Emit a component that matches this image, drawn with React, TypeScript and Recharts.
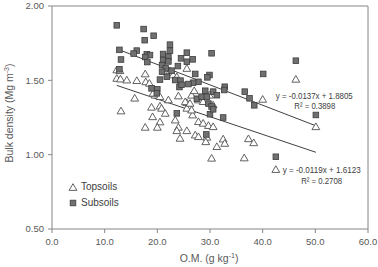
import { ScatterChart, Scatter, XAxis, YAxis, ReferenceLine, ReferenceDot, Label } from 'recharts';

// O.M. (g/kg) and bulk density (Mg/m3)
const topsoilOM = [12.3, 12.9, 12.3, 13.0, 17.7, 16.1, 17.8, 18.5, 22.4, 25.6, 23.0, 23.7, 19.6, 20.5, 15.7, 22.1,
  24.0, 13.1, 18.9, 20.5, 20.8, 25.6, 26.5, 27.0, 27.8, 28.7, 25.6, 26.7, 19.1, 21.5, 20.5, 23.4, 27.8, 28.7, 29.7,
  30.6, 17.7, 20.0, 24.0, 23.7, 25.6, 27.2, 27.8, 24.3, 29.4, 29.2, 31.3, 30.3, 32.5, 32.8, 37.3, 38.3, 36.5, 42.5,
  46.3, 40.0, 50.1, 29.9, 30.6, 25.3, 26.2, 26.5, 19.2, 14.2];
const topsoilBD = [1.57, 1.565, 1.513, 1.509, 1.543, 1.498, 1.49, 1.48, 1.563, 1.58, 1.536, 1.524, 1.4, 1.39, 1.38, 1.368,
  1.395, 1.294, 1.319, 1.327, 1.312, 1.35, 1.4, 1.43, 1.368, 1.357, 1.312, 1.267, 1.255, 1.278, 1.22, 1.233, 1.222, 1.211, 1.196,
  1.188, 1.184, 1.184, 1.184, 1.161, 1.161, 1.132, 1.121, 1.11, 1.117, 1.087, 1.054, 0.976, 1.105, 1.076, 1.107, 1.08, 0.978, 0.9,
  1.507, 1.372, 1.188, 1.4, 1.334, 1.356, 1.345, 1.3, 1.413, 1.502];

const subsoilOM = [12.3, 17.4, 19.3, 17.6, 22.4, 22.4, 12.8, 16.1, 15.5, 18.0, 18.6, 17.7, 21.1, 22.1, 21.1, 22.1, 25.6,
  30.3, 24.5, 25.6, 26.7, 13.1, 18.1, 20.9, 21.6, 23.9, 12.8, 20.9, 22.7, 27.2, 29.9, 29.5, 21.8, 20.5, 23.4, 24.4, 27.8,
  26.8, 25.9, 20.0, 18.9, 24.2, 24.6, 29.1, 30.6, 31.3, 27.5, 28.4, 29.7, 30.3, 23.7, 30.0, 30.6, 46.3, 40.1, 32.8, 32.7,
  36.6, 37.5, 38.4, 32.5, 50.1, 29.3, 42.5, 19.9, 29.4];
const subsoilBD = [1.87, 1.845, 1.8, 1.77, 1.74, 1.7, 1.705, 1.7, 1.68, 1.675, 1.67, 1.657, 1.677, 1.66, 1.636, 1.627, 1.686,
  1.682, 1.648, 1.625, 1.641, 1.64, 1.623, 1.603, 1.58, 1.596, 1.574, 1.558, 1.565, 1.543, 1.536, 1.52, 1.524, 1.505, 1.502, 1.498, 1.49,
  1.484, 1.475, 1.44, 1.446, 1.455, 1.47, 1.43, 1.424, 1.4, 1.376, 1.39, 1.344, 1.324, 1.278, 1.272, 1.305, 1.632, 1.543, 1.457, 1.435,
  1.424, 1.379, 1.332, 1.25, 1.267, 1.136, 0.986, 1.413, 1.39];

const xTicks = [0, 10, 20, 30, 40, 50, 60];
const yTicks = [0.5, 1.0, 1.5, 2.0];

// linear trendlines as printed on the chart: [subsoils, topsoils]
const trendSlopes = [-0.0137, -0.0119];
const trendIntercepts = [1.8805, 1.6123];
const trendR2 = ['0.3898', '0.2708'];
const trendFrom = 12.3;
const trendTo = 50.1;

const topsoils = topsoilOM.map((om, i) => ({ om, bd: topsoilBD[i] }));
const subsoils = subsoilOM.map((om, i) => ({ om, bd: subsoilBD[i] }));

const FONT = '"Liberation Sans", Arial, sans-serif';
const AXIS = '#868686';
const TXT = '#595959';

const Triangle = (props: any) => {
  const { cx, cy } = props;
  return (
    <path d={`M${cx},${cy - 3.8} L${cx + 3.9},${cy + 2.9} L${cx - 3.9},${cy + 2.9} Z`}
      fill="#fff" stroke="#505050" strokeWidth={0.9} />
  );
};

const Square = (props: any) => {
  const { cx, cy } = props;
  return <rect x={cx - 2.8} y={cy - 2.8} width={5.6} height={5.6} fill="#707070" stroke="#3c3c3c" strokeWidth={0.8} />;
};

// small squeezed label for the trendline equations (the original uses a narrow font)
const eqLabel = (text: string, width: number) => (props: any) => {
  const { viewBox } = props;
  const cx = viewBox.x + viewBox.width / 2;
  const cy = viewBox.y + viewBox.height / 2;
  return (
    <text x={cx - width / 2} y={cy} dominantBaseline="central" fill="#404040" fontSize={9.5} fontFamily={FONT}
      textLength={width} lengthAdjust="spacingAndGlyphs">
      {text}
    </text>
  );
};

const fmtEq = (k: number) => `y = ${trendSlopes[k].toFixed(4)}x + ${trendIntercepts[k].toFixed(4)}`;

export default function App() {
  const lines = trendSlopes.map((s, k) => [
    { x: trendFrom, y: s * trendFrom + trendIntercepts[k] },
    { x: trendTo, y: s * trendTo + trendIntercepts[k] },
  ]);

  return (
    <div style={{ position: 'absolute', left: 0, top: 0, width: 378, height: 267, background: '#fff' }}>
      <ScatterChart width={378} height={267} margin={{ top: 6, right: 10, bottom: 0, left: 0 }}>
        <XAxis type="number" dataKey="om" domain={[0, 60]} ticks={xTicks} height={38}
          tickFormatter={(v: number) => v.toFixed(1)} tickSize={4} tickMargin={5}
          axisLine={{ stroke: AXIS }} tickLine={{ stroke: AXIS }}
          tick={{ fill: TXT, fontSize: 9.5, fontFamily: FONT }}>
          <Label content={() => (
            <text x={209} y={258} textAnchor="middle" dominantBaseline="central" fill={TXT} fontSize={10.5} fontFamily={FONT}>
              O.M. (g kg<tspan dy={-3.5} fontSize={7}>-1</tspan><tspan dy={3.5}>)</tspan>
            </text>
          )} />
        </XAxis>
        <YAxis type="number" dataKey="bd" domain={[0.5, 2]} ticks={yTicks} width={52}
          tickFormatter={(v: number) => v.toFixed(2)} tickSize={4} tickMargin={4}
          axisLine={{ stroke: AXIS }} tickLine={{ stroke: AXIS }}
          tick={{ fill: TXT, fontSize: 9.5, fontFamily: FONT }}>
          <Label content={() => (
            <text x={9} y={113} transform="rotate(-90 9 113)" textAnchor="middle" dominantBaseline="central"
              fill={TXT} fontSize={10.5} fontFamily={FONT}>
              Bulk density (Mg m<tspan dy={-3.5} fontSize={7}>-3</tspan><tspan dy={3.5}>)</tspan>
            </text>
          )} />
        </YAxis>
        <ReferenceLine y={2} stroke={AXIS} />
        <ReferenceLine x={60} stroke={AXIS} />
        <Scatter name="Topsoils" data={topsoils} shape={Triangle} isAnimationActive={false} />
        <Scatter name="Subsoils" data={subsoils} shape={Square} isAnimationActive={false} />
        {lines.map((seg, k) => (
          <ReferenceLine key={k} segment={seg} stroke="#404040" strokeWidth={1} />
        ))}
        <ReferenceDot x={49.8} y={1.401} r={0} label={{ content: eqLabel(fmtEq(0), 77) }} />
        <ReferenceDot x={49.9} y={1.33} r={0} label={{ content: eqLabel(`R² = ${trendR2[0]}`, 41) }} />
        <ReferenceDot x={51.2} y={0.9} r={0} label={{ content: eqLabel(fmtEq(1), 78) }} />
        <ReferenceDot x={51.2} y={0.825} r={0} label={{ content: eqLabel(`R² = ${trendR2[1]}`, 41) }} />
      </ScatterChart>
      <div style={{ position: 'absolute', left: 68, top: 179, fontFamily: FONT, fontSize: 10, color: '#404040', lineHeight: '16px' }}>
        <div style={{ display: 'flex', alignItems: 'center', height: 16 }}>
          <svg width={10} height={10}><Triangle cx={5} cy={5.5} /></svg>
          <span style={{ marginLeft: 3 }}>Topsoils</span>
        </div>
        <div style={{ display: 'flex', alignItems: 'center', height: 16 }}>
          <svg width={10} height={10}><Square cx={5} cy={5} /></svg>
          <span style={{ marginLeft: 3 }}>Subsoils</span>
        </div>
      </div>
    </div>
  );
}
